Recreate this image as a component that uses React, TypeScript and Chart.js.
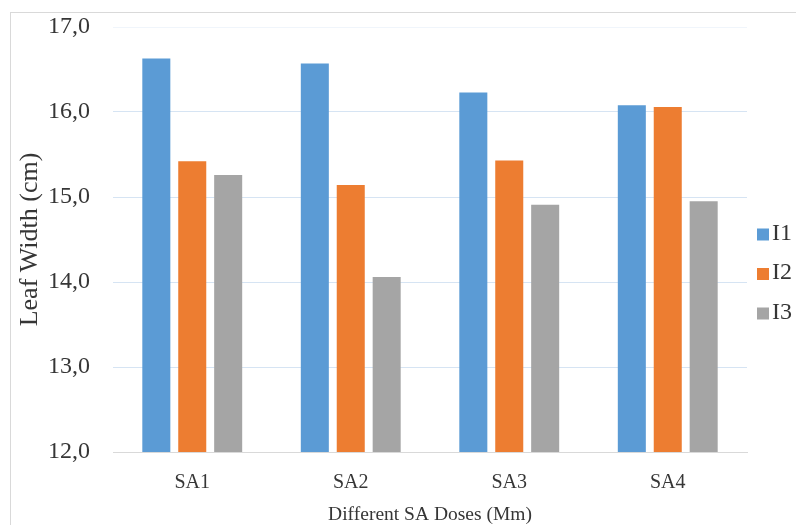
import React, { useEffect, useRef } from "react";
import { Chart, registerables } from "chart.js";

Chart.register(...registerables);

const categories = ["SA1", "SA2", "SA3", "SA4"];
const seriesNames = ["I1", "I2", "I3"];
const i1Values = [16.63, 16.57, 16.23, 16.08];
const i2Values = [15.42, 15.14, 15.43, 16.06];
const i3Values = [15.26, 14.06, 14.91, 14.95];
const seriesColors = ["#5b9bd5", "#ed7d31", "#a5a5a5"];
const yMin = 12;
const yMax = 17;
const yStep = 1;
const xTitle = "Different SA Doses (Mm)";
const yTitle = "Leaf Width (cm)";

const FONT = '"Liberation Serif", "Times New Roman", serif';
const TEXT = "#363636";

const sideLegend = {
  id: "sideLegend",
  afterDraw(chart: any, _args: any, opts: any) {
    const { ctx, chartArea } = chart;
    const ds = chart.data.datasets;
    ctx.save();
    ctx.font = `${opts.fontSize}px ${FONT}`;
    ctx.textBaseline = "middle";
    ctx.textAlign = "left";
    const n = ds.length;
    const startY = opts.centerY - ((n - 1) * opts.spacing) / 2;
    ds.forEach((d: any, i: number) => {
      const y = startY + i * opts.spacing;
      const x = chartArea.right + opts.offsetX;
      ctx.fillStyle = d.backgroundColor;
      ctx.fillRect(x, y - opts.box / 2 + 1, opts.box, opts.box);
      ctx.fillStyle = TEXT;
      ctx.fillText(d.label, x + opts.box + opts.gap, y);
    });
    ctx.restore();
  },
};

export default function App() {
  const ref = useRef<HTMLCanvasElement | null>(null);

  useEffect(() => {
    if (!ref.current) return;
    const values = [i1Values, i2Values, i3Values];
    const chart = new Chart(ref.current, {
      type: "bar",
      data: {
        labels: categories,
        datasets: seriesNames.map((name, i) => ({
          label: name,
          data: values[i],
          backgroundColor: seriesColors[i],
          borderWidth: 0,
          categoryPercentage: 0.68,
          barPercentage: 0.78,
        })),
      },
      options: {
        responsive: false,
        animation: false,
        layout: { padding: { left: 8, right: 49, top: 27, bottom: -2 } },
        plugins: {
          legend: { display: false },
          tooltip: { enabled: false },
          sideLegend: {
            fontSize: 24,
            box: 12,
            gap: 3,
            spacing: 39.5,
            offsetX: 10,
            centerY: 273,
          },
        } as any,
        scales: {
          x: {
            grid: { display: false, drawTicks: false },
            border: { display: true, color: "#d9d9d9", width: 1 },
            ticks: {
              color: TEXT,
              font: { family: FONT, size: 20 },
              padding: 19,
            },
            title: {
              display: true,
              text: xTitle,
              color: TEXT,
              font: { family: FONT, size: 19.5 },
              padding: { top: 0, bottom: 0 },
            },
            afterFit: (s: any) => {
              s.height = 75;
              s.paddingLeft = 0;
              s.paddingRight = 0;
            },
          },
          y: {
            min: yMin,
            max: yMax,
            grid: {
              drawTicks: false,
              color: (c: any) =>
                c.tick && c.tick.value === yMax
                  ? "#f0f5fb"
                  : c.tick && c.tick.value === yMin
                  ? "#d9d9d9"
                  : "#d6e4f3",
              lineWidth: 1,
            },
            border: { display: false },
            ticks: {
              stepSize: yStep,
              color: TEXT,
              font: { family: FONT, size: 24 },
              padding: 23,
              callback: (v: any) => Number(v).toFixed(1).replace(".", ","),
            },
            title: {
              display: true,
              text: yTitle,
              color: TEXT,
              font: { family: FONT, size: 26 },
              padding: { top: 7, bottom: 0 },
            },
            afterFit: (s: any) => {
              s.width = 105;
              s.paddingTop = 0;
              s.paddingBottom = 0;
            },
          },
        },
      },
      plugins: [sideLegend],
    });
    return () => chart.destroy();
  }, []);

  return (
    <div
      style={{
        position: "fixed",
        left: 0,
        top: 0,
        width: 796,
        height: 525,
        background: "#fff",
        overflow: "hidden",
      }}
    >
      <div
        style={{
          position: "absolute",
          left: 10,
          top: 12,
          width: 800,
          height: 600,
          border: "1px solid #d9d9d9",
          boxSizing: "border-box",
        }}
      />
      <canvas
        ref={ref}
        width={796}
        height={525}
        style={{ position: "absolute", left: 0, top: 0 }}
      />
    </div>
  );
}
